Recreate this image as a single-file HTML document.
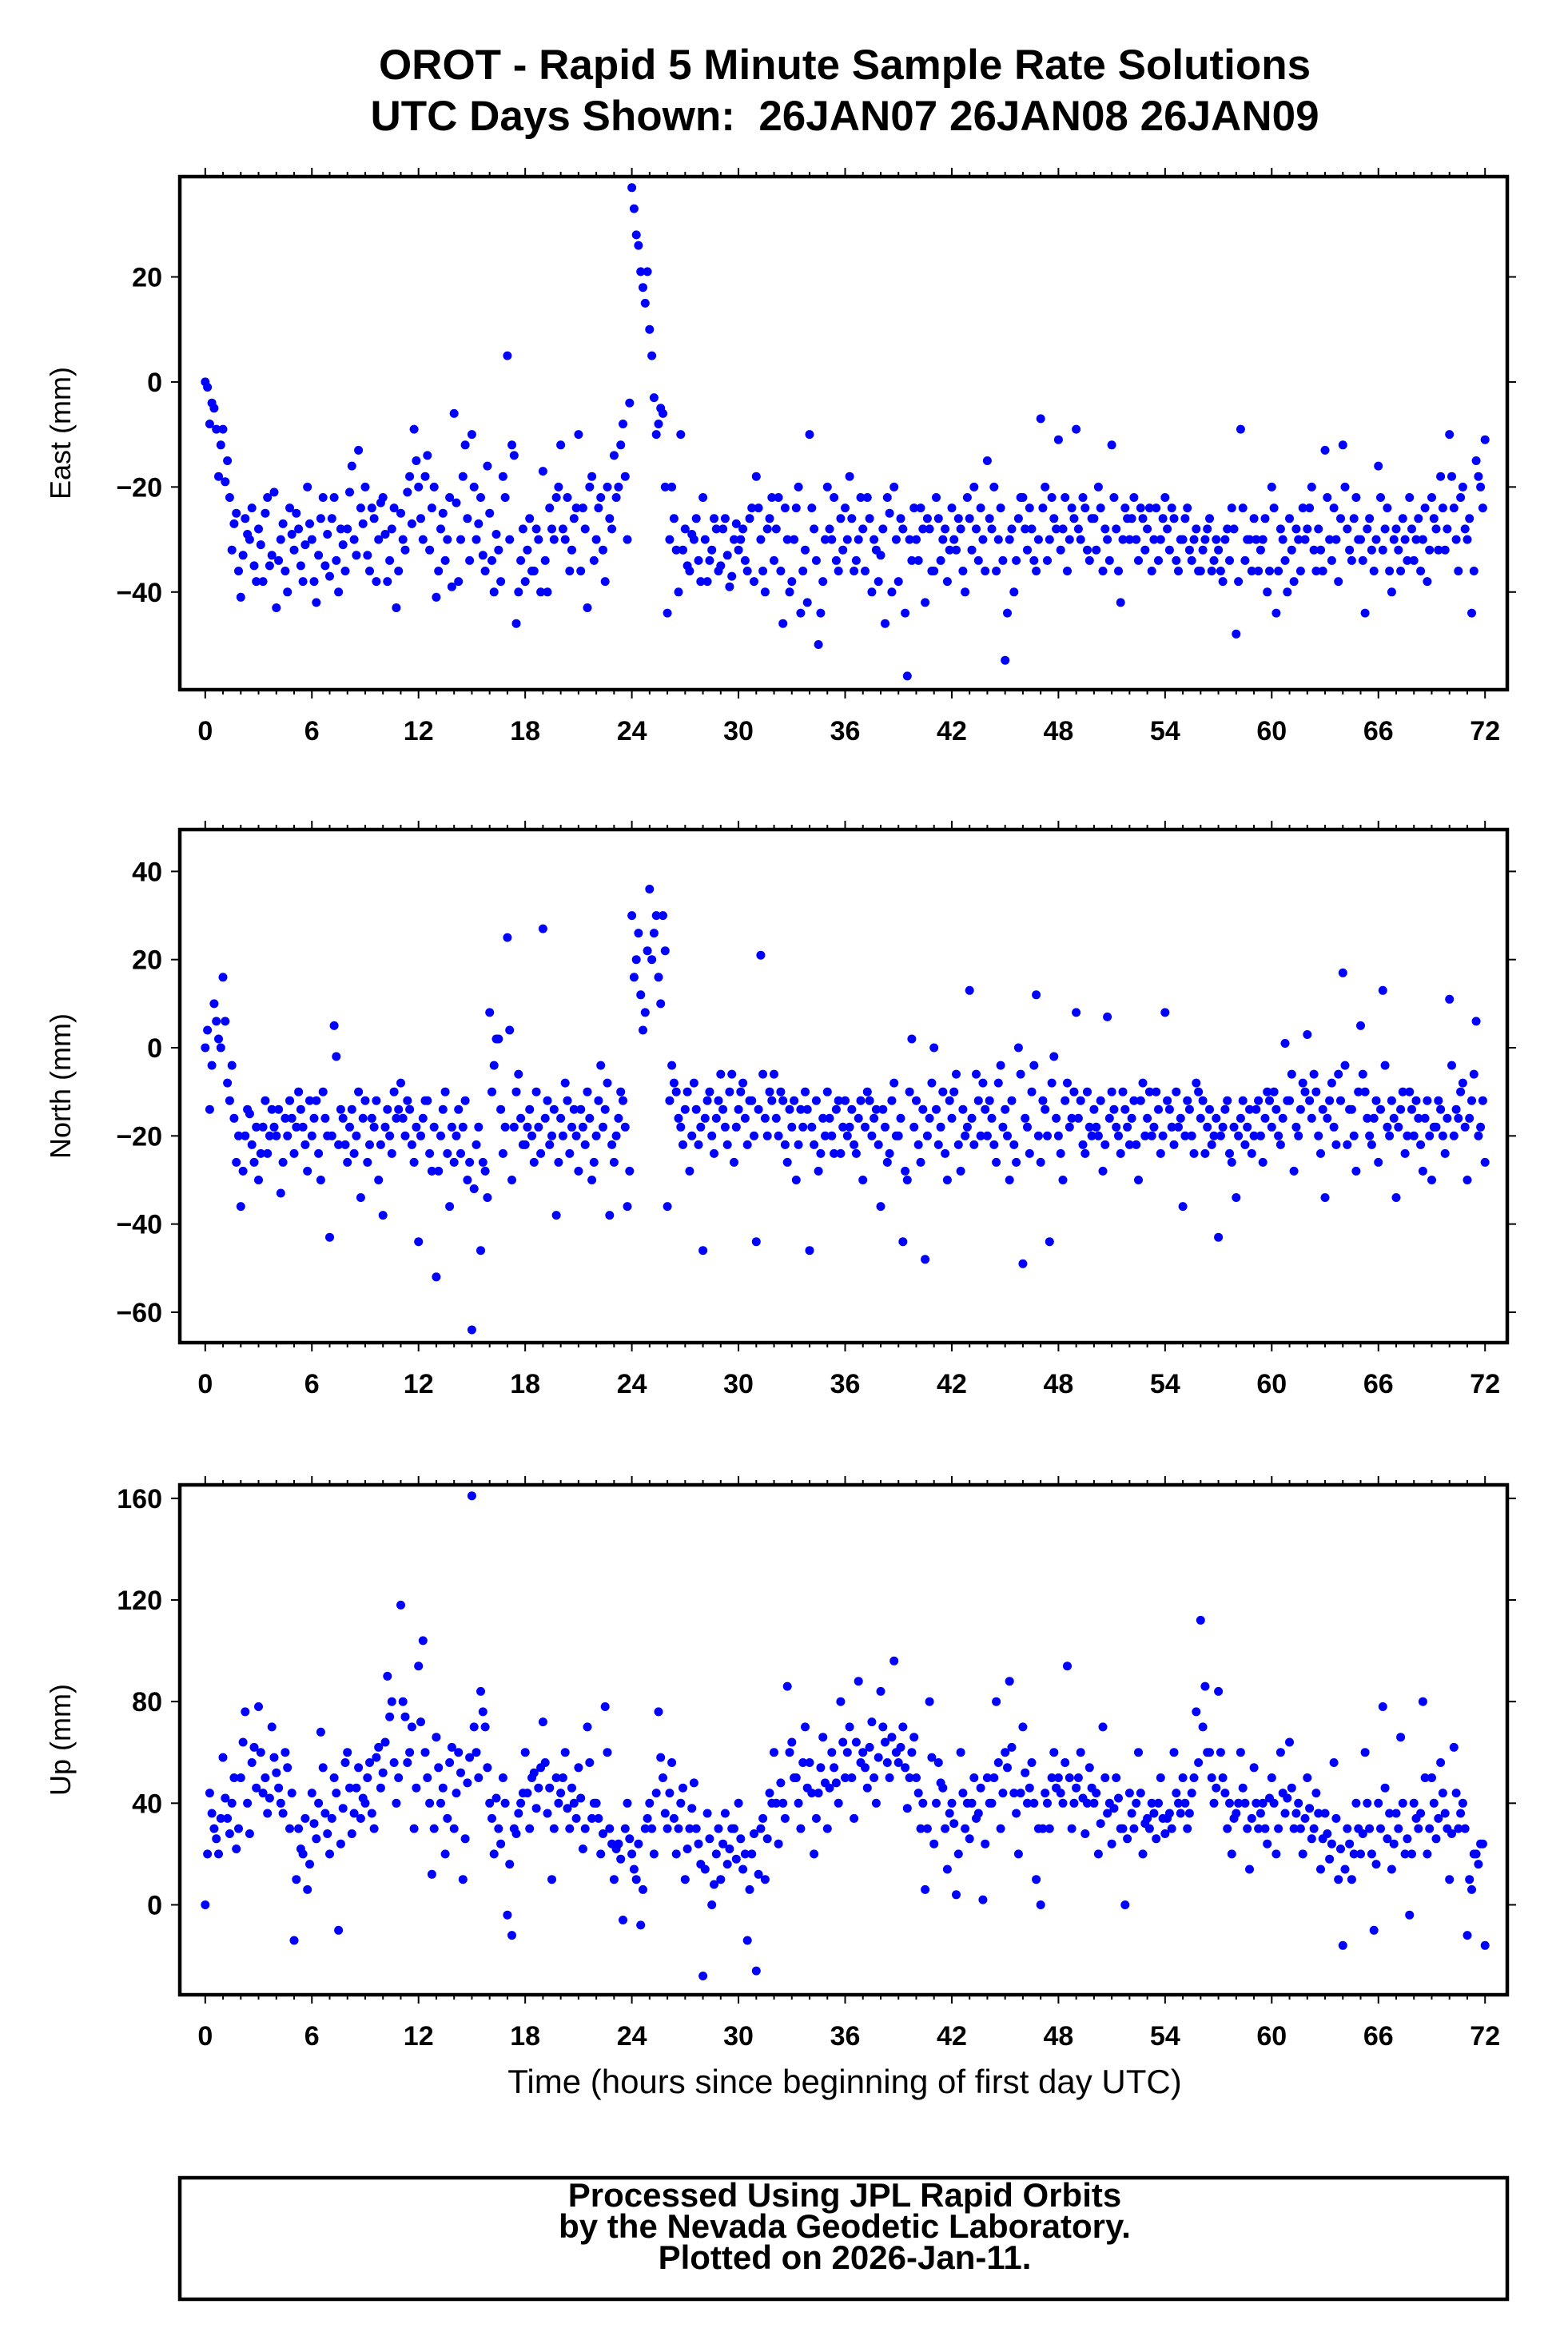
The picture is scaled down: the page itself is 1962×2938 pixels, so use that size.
<!DOCTYPE html>
<html><head><meta charset="utf-8"><style>
html,body{margin:0;padding:0;background:#fff;}
svg{display:block;font-family:"Liberation Sans",Arial,sans-serif;}
</style></head><body>
<svg id="chart" width="1962" height="2938" viewBox="0 0 1962 2938" xmlns="http://www.w3.org/2000/svg">
<rect width="1962" height="2938" fill="#fff"/>
<text x="1057" y="99" text-anchor="middle" font-size="53" font-weight="bold">OROT - Rapid 5 Minute Sample Rate Solutions</text>
<text x="1057" y="163" text-anchor="middle" font-size="53" font-weight="bold" xml:space="preserve" style="white-space:pre">UTC Days Shown:  26JAN07 26JAN08 26JAN09</text>
<text x="1057" y="2619" text-anchor="middle" font-size="42">Time (hours since beginning of first day UTC)</text>
<g>
<rect x="225" y="2725" width="1661" height="152" fill="none" stroke="#000" stroke-width="4.5"/>
<text x="1057" y="2761" text-anchor="middle" font-size="42" font-weight="bold">Processed Using JPL Rapid Orbits</text>
<text x="1057" y="2800" text-anchor="middle" font-size="42" font-weight="bold">by the Nevada Geodetic Laboratory.</text>
<text x="1057" y="2839" text-anchor="middle" font-size="42" font-weight="bold">Plotted on 2026-Jan-11.</text>
</g>
</svg>
<script>
const xTicks = [0,6,12,18,24,30,36,42,48,54,60,66,72];
const eastTicks = [20,0,-20,-40];
const northTicks = [40,20,0,-20,-40,-60];
const upTicks = [160,120,80,40,0];
const eastValues = [0,-8,-5,-18,-9,-15,-32,-25,-41,-26,-30,-35,-28,-38,-22,-33,-43,-30,-36,-24,-32,-28,-38,-20,-30,-42,-26,-35,-37,-22,-40,-31,-28,-16,-33,-24,-20,-36,-26,-30,-22,-38,-28,-43,-25,-32,-18,-9,-20,-30,-14,-24,-41,-28,-34,-22,-6,-38,-18,-26,-10,-30,-22,-36,-25,-40,-32,-18,5,-12,-46,-34,-38,-26,-36,-30,-17,-40,-28,-22,-12,-30,-36,-26,-10,-24,-43,-18,-30,-22,-38,-26,-14,-20,-8,-30,37,28,21,15,10,-3,-8,-6,-44,-20,-32,-10,-28,-36,-30,-34,-22,-38,-32,-28,-35,-26,-39,-30,-32,-28,-36,-24,-18,-30,-40,-26,-34,-22,-46,-30,-38,-24,-44,-32,-10,-28,-50,-38,-20,-30,-34,-26,-24,-18,-36,-30,-28,-22,-40,-32,-33,-46,-25,-20,-38,-28,-56,-34,-30,-24,-42,-28,-36,-26,-30,-38,-24,-32,-28,-40,-26,-20,-34,-30,-15,-28,-36,-24,-53,-30,-40,-26,-22,-32,-28,-36,-7,-20,-30,-26,-11,-28,-36,-24,-9,-30,-24,-34,-26,-20,-36,-30,-12,-28,-42,-24,-30,-22,-34,-26,-28,-36,-24,-30,-22,-32,-26,-36,-30,-24,-34,-28,-36,-30,-26,-34,-32,-38,-28,-24,-48,-9,-34,-30,-26,-36,-30,-40,-20,-44,-28,-34,-26,-38,-30,-24,-28,-20,-36,-32,-13,-30,-24,-38,-12,-28,-34,-22,-30,-44,-26,-36,-16,-32,-24,-40,-28,-36,-30,-22,-34,-26,-30,-38,-22,-28,-18,-32,-10,-24,-36,-20,-30,-44,-15,-20,-11];
const eastValuesB = [-1,-4,-9,-12,-19,-22,-27,-36,-33,-29,-24,-38,-31,-25,-35,-21,-34,-27,-40,-29,-25,-35,-31,-27,-38,-33,-22,-29,-26,-34,-28,-36,-21,-30,-13,-27,-33,-24,-38,-23,-29,-34,-24,-36,-30,-21,-27,-15,-26,-18,-32,-20,-36,-25,-30,-39,-23,-30,-12,-34,-20,-27,-33,-16,-34,-29,-38,-22,-30,-14,-40,-28,-32,-36,-28,-40,-34,-24,-30,-20,-28,-22,-32,-24,-36,-28,-20,-34,-24,-32,-20,-28,-22,-12,-18,-4,33,26,18,21,5,-10,-5,-20,-30,-26,-40,-32,-35,-29,-26,-38,-30,-34,-26,-36,-28,-33,-37,-27,-30,-34,-26,-38,-24,-36,-28,-22,-28,-36,-24,-40,-30,-20,-36,-42,-24,-34,-44,-30,-28,-22,-36,-32,-30,-26,-34,-22,-36,-26,-30,-38,-28,-22,-40,-30,-26,-44,-30,-24,-34,-28,-26,-36,-22,-34,-28,-32,-30,-26,-36,-22,-32,-28,-24,-36,-26,-20,-30,-34,-44,-28,-34,-22,-28,-24,-34,-30,-24,-34,-22,-28,-32,-22,-30,-26,-28,-22,-32,-26,-32,-24,-28,-34,-22,-36,-30,-26,-26,-30,-24,-32,-24,-30,-34,-26,-28,-24,-34,-30,-26,-32,-30,-36,-32,-28,-36,-30,-36,-30,-34,-28,-38,-24,-30,-36,-30,-32,-26,-36,-24,-36,-30,-40,-32,-28,-36,-30,-24,-32,-28,-36,-22,-34,-30,-26,-20,-32,-26,-30,-34,-28,-32,-30,-22,-28,-36,-30,-32,-26,-34,-28,-30,-36,-24,-32,-26,-32,-24,-28,-18,-30,-22,-28,-26,-36,-18,-24];
const northValues = [0,-14,10,2,16,-8,-4,-26,-36,-20,-15,-26,-30,-18,-24,-14,-20,-33,-16,-12,-24,-10,-18,-28,-20,-12,-30,-16,-43,5,-22,-16,-26,-14,-20,-34,-12,-22,-18,-30,-38,-14,-24,-16,-8,-20,-14,-26,-44,-16,-12,-28,-52,-20,-10,-36,-26,-14,-18,-30,-64,-22,-46,-28,8,-4,2,-24,25,-30,-10,-16,-22,-14,-26,-18,27,-12,-20,-38,-16,-8,-24,-14,-28,-18,-10,-30,-20,-4,-14,-38,-26,-16,-12,-36,30,20,12,8,36,26,16,30,-36,-4,-10,-18,-14,-28,-8,-22,-46,-12,-20,-16,-6,-18,-10,-26,-14,-8,-22,-12,-44,21,-16,-10,-6,-20,-12,-26,-18,-30,-14,-10,-46,-22,-28,-16,-10,-20,-14,-24,-12,-18,-22,-16,-30,-10,-20,-14,-36,-18,-24,-8,-20,-44,-30,2,-12,-26,-48,-16,0,-22,-10,-30,-16,-6,-28,-20,13,-22,-12,-8,-20,-16,-26,-4,-14,-30,-22,0,-49,-18,-10,12,-26,-14,-44,-2,-20,-30,-8,-16,8,-12,-24,-18,-14,-20,-28,7,-10,-18,-24,-14,-22,-12,-30,-8,-16,-20,-10,-24,8,-14,-22,-18,-36,-12,-20,-8,-16,-24,-14,-20,-43,-18,-12,-26,-34,-16,-22,-14,-20,-12,-26,-10,-18,-14,-22,1,-12,-28,-20,-8,3,-16,-10,-24,-34,-12,-18,-6,17,-22,-14,-28,5,-10,-20,-16,-26,13,-18,-12,-34,-14,-24,-10,-20,-16,-28,-12,-30,-18,-14,-24,11,-20,-16,-8,-30,-12,6,-18,-26];
const northValuesB = [4,-4,6,0,6,-12,-16,-20,-28,-14,-22,-18,-24,-12,-20,-18,-14,-26,-20,-16,-18,-14,-22,-12,-16,-24,-10,-20,-20,-2,-14,-22,-18,-24,-10,-16,-26,-16,-12,-22,-18,-20,-10,-14,-16,-12,-22,-18,-20,-12,-24,-18,-28,-14,-24,-18,-20,-24,-12,-26,-32,-18,-26,-34,-10,2,-14,-18,4,-18,-6,-22,-18,-20,-10,-24,-16,-22,-14,-26,-20,-12,-18,-20,-14,-22,-16,-26,-12,-18,-8,-22,-20,-10,-18,-28,16,26,4,22,20,30,10,22,-12,-8,-16,-22,-10,-20,-14,-18,-16,-10,-24,-12,-14,-22,-6,-18,-10,-16,-12,-20,-14,-6,-20,-12,-16,-10,-22,-14,-12,-22,-18,-14,-18,-12,-24,-20,-16,-24,-12,-18,-20,-14,-24,-12,-18,-12,-16,-22,-14,-26,-12,-20,-16,-28,-10,-18,-22,-14,-20,-8,-14,-18,-24,-12,-10,-22,-14,-18,-16,-6,-20,-14,-12,-22,-8,-18,-20,-12,-26,-6,-16,-24,-4,-20,-12,-20,-8,-16,-24,-12,-18,-10,-16,-22,-10,-20,-18,-12,-22,-16,-14,-20,-10,-18,-16,-22,-12,-20,-10,-18,-14,-20,-12,-18,-10,-16,-20,-14,-24,-10,-12,-18,-22,-16,-20,-14,-24,-18,-20,-12,-18,-24,-14,-20,-16,-12,-10,-20,-16,-12,-6,-18,-14,-10,-12,-6,-20,-14,-16,-8,-22,-12,-4,-14,-20,-10,-6,-16,-22,-12,-14,-4,-20,-16,-18,-10,-20,-14,-12,-22,-16,-20,-18,-12,-20,-16,-4,-14,-10,-18,-16,-6,-20,-12];
const upValues = [0,44,30,20,58,34,40,22,50,76,28,62,78,44,36,70,52,40,60,30,-14,30,20,6,44,26,68,36,20,50,-10,38,60,28,46,34,40,56,30,62,52,90,80,40,118,74,60,30,94,104,50,12,66,40,20,56,30,60,10,48,161,60,84,70,40,20,30,50,-4,-12,28,40,60,30,52,46,72,36,10,50,44,60,30,40,54,22,70,34,40,20,78,30,10,24,-6,40,20,10,-8,30,40,20,76,50,30,56,20,40,10,30,48,24,-28,36,0,20,10,36,22,30,40,14,-14,20,-26,30,10,44,60,24,40,86,64,50,30,70,56,20,44,66,30,60,48,80,50,70,34,88,60,46,72,40,84,64,50,96,56,70,38,60,50,30,6,80,24,56,46,14,40,4,60,30,26,50,36,2,50,40,80,30,60,88,44,20,70,40,56,10,0,44,30,60,50,40,94,30,46,60,28,54,40,20,70,36,24,50,30,0,44,30,60,20,34,40,26,50,28,36,60,40,50,30,44,76,112,86,60,40,84,50,30,20,36,60,40,14,54,30,40,24,50,20,60,36,64,30,40,20,50,26,44,14,36,18,56,10,-16,30,10,40,20,60,30,-10,40,78,26,14,36,66,20,-4,40,30,80,20,50,26,56,36,10,62,30,40,-12,6,20,24,-16];
const upValuesB = [20,36,26,34,42,28,50,30,64,40,56,46,60,50,42,58,46,36,54,44,10,22,34,16,32,40,54,28,34,44,24,56,46,36,54,42,50,36,58,46,64,74,56,50,80,56,70,46,72,60,40,30,54,46,34,62,44,52,26,58,70,50,76,54,34,42,24,40,16,30,36,44,44,50,38,54,56,46,30,40,50,38,46,34,42,30,56,40,34,28,60,24,22,18,30,26,14,24,6,34,30,44,58,36,44,34,30,46,22,38,30,16,14,26,8,30,24,16,30,18,26,20,6,28,12,34,26,40,40,48,34,60,50,40,56,46,44,34,54,48,46,54,40,64,60,50,64,56,54,62,50,58,70,56,66,60,62,54,50,66,44,40,30,58,40,48,30,36,32,20,44,40,40,34,46,24,40,50,56,44,54,62,36,44,52,46,40,30,30,40,50,46,44,56,50,40,50,42,40,46,44,32,50,40,38,42,30,26,36,40,44,32,30,36,40,34,34,30,44,36,40,36,50,56,70,60,50,46,60,44,40,34,40,46,30,34,40,36,30,42,40,30,44,42,46,36,30,34,38,30,36,26,28,24,34,22,14,24,20,30,28,40,20,16,30,46,36,24,30,40,26,20,34,36,50,30,40,34,44,30,28,44,36,30,10,20,16,24];
const sampleStepHours = 0.25;
const offsetHoursB = 0.125;

const NS='http://www.w3.org/2000/svg';
const svg=document.getElementById('chart');
const L=225,R=1886,X0=-1.43,X1=73.25;
const xs=h=>L+(h-X0)/(X1-X0)*(R-L);
function mk(tag,attrs,parent){const e=document.createElementNS(NS,tag);for(const k in attrs)e.setAttribute(k,attrs[k]);(parent||svg).appendChild(e);return e;}

function panel(name,title,top,bot,ymin,ymax,yTicks,vals,valsB){
  const g=mk('g',{});
  
  
  const ys=v=>bot-(v-ymin)/(ymax-ymin)*(bot-top);
  const clipId='clip-'+name;
  const cp=mk('clipPath',{id:clipId},g);mk('rect',{x:L,y:top,width:R-L,height:bot-top},cp);
  const pts=mk('g',{'clip-path':'url(#'+clipId+')'},g);
  
  
  const draw=(arr,off)=>arr.forEach((v,i)=>{
    const c=mk('circle',{cx:xs(i*sampleStepHours+off).toFixed(1),cy:ys(v).toFixed(1),r:5.5,fill:'#0000ff'},pts);
    
    
  });
  draw(vals,0);
  draw(valsB,offsetHoursB);
  const fr=mk('rect',{x:L,y:top,width:R-L,height:bot-top,fill:'none',stroke:'#000','stroke-width':4.5},g);
  
  
  for(let h=0;h<=72;h++){
    const major=h%6===0,len=major?11:6,x=xs(h);
    mk('line',{x1:x,x2:x,y1:bot,y2:bot+len,stroke:'#000','stroke-width':2},g);
    mk('line',{x1:x,x2:x,y1:top,y2:top-len,stroke:'#000','stroke-width':2},g);
  }
  xTicks.forEach(t=>{
    const tx=mk('text',{x:xs(t),y:bot+63,'text-anchor':'middle','font-size':34,'font-weight':'bold'},g);
    tx.textContent=t;
    
    
  });
  yTicks.forEach(t=>{
    const y=ys(t);
    mk('line',{x1:L,x2:L-11,y1:y,y2:y,stroke:'#000','stroke-width':2},g);
    mk('line',{x1:R,x2:R+11,y1:y,y2:y,stroke:'#000','stroke-width':2},g);
    const tx=mk('text',{x:L-22,y:y+12,'text-anchor':'end','font-size':34,'font-weight':'bold'},g);
    tx.textContent=(t<0?'\u2212'+(-t):t);
    
    
  });
  const cy=(top+bot)/2;
  const yt=mk('text',{x:88,y:cy,'text-anchor':'middle','font-size':36,transform:'rotate(-90 88 '+cy+')'},g);
  yt.textContent=title;
  
  
}
panel('east','East (mm)',221,863,-58.6,39.1,eastTicks,eastValues,eastValuesB);
panel('north','North (mm)',1038,1680,-66.9,49.5,northTicks,northValues,northValuesB);
panel('up','Up (mm)',1858,2496,-35.4,165.3,upTicks,upValues,upValuesB);
</script>
</body></html>
